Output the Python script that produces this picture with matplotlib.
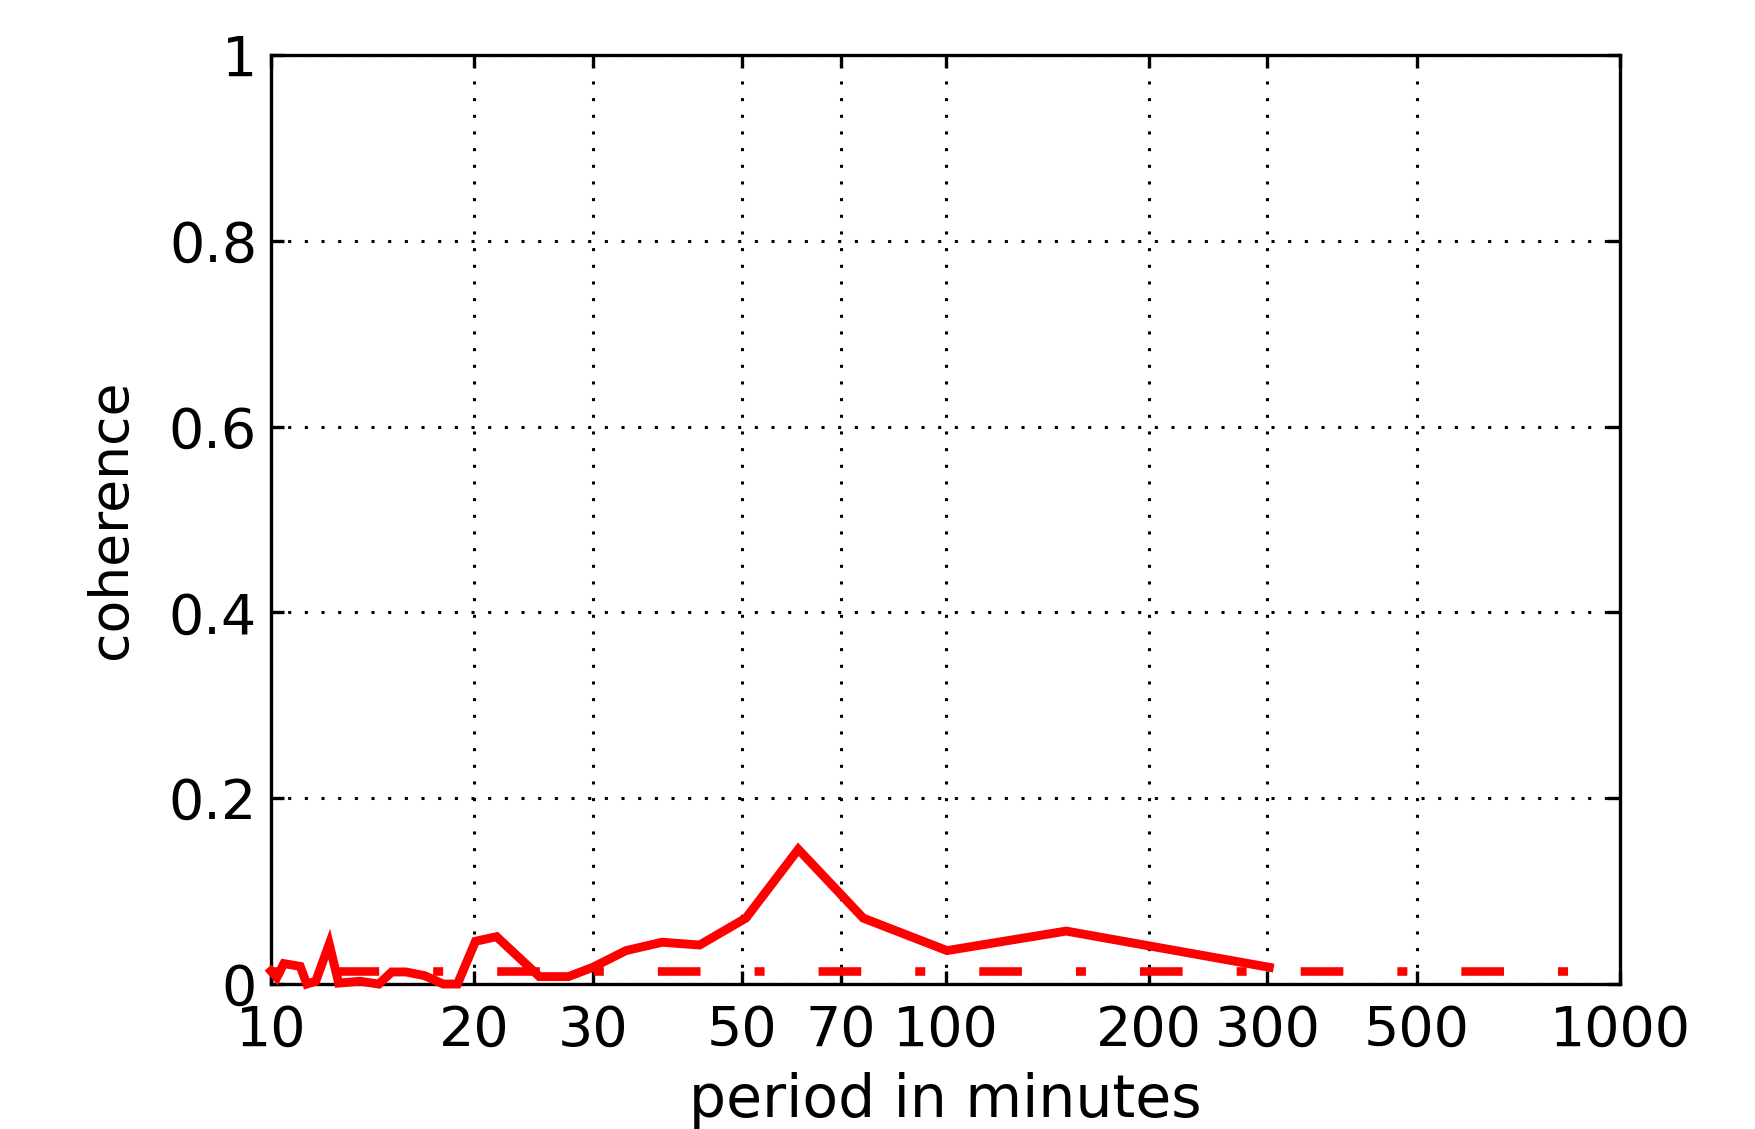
import matplotlib
matplotlib.use('Agg')
import matplotlib.pyplot as plt
from matplotlib.ticker import FixedLocator, FixedFormatter, NullLocator

# ---- data ----
period = [10.0, 10.2, 10.45, 11.05, 11.3, 11.65, 12.2, 12.6, 13.55, 14.45,
          15.1, 15.85, 16.9, 18.0, 18.9, 20.1, 21.6, 25.0, 27.6, 30.0,
          33.6, 38.0, 43.2, 50.6, 60.5, 75.5, 100.5, 151.0, 302.0]
coherence = [0.014, 0.007, 0.022, 0.019, 0.0, 0.003, 0.043, 0.001, 0.003, 0.0,
             0.013, 0.013, 0.009, 0.0, 0.0, 0.046, 0.051, 0.008, 0.008, 0.018,
             0.036, 0.045, 0.042, 0.071, 0.145, 0.071, 0.036, 0.057, 0.018]
sig_period = [10, 1000]
sig_level = [0.0135, 0.0135]

xticks = [10, 20, 30, 50, 70, 100, 200, 300, 500, 1000]
xticklabels = ['10', '20', '30', '50', '70', '100', '200', '300', '500', '1000']
yticks = [0, 0.2, 0.4, 0.6, 0.8, 1]
yticklabels = ['0', '0.2', '0.4', '0.6', '0.8', '1']

plt.rcParams['lines.scale_dashes'] = False
plt.rcParams['font.family'] = ['DejaVu Sans']

fig = plt.figure(figsize=(17.55, 11.29), dpi=100)
ax = fig.add_axes([0.1544, 0.1284, 0.7687, 0.8229])

red = '#ff0000'
ax.plot(period, coherence, color=red, lw=6.4, solid_joinstyle='miter',
        clip_on=False, zorder=3)
ax.plot(sig_period, sig_level, color=red, lw=6.2,
        linestyle=(68.9, (30.7, 38.9, 7.2, 38.9)), dash_capstyle='butt',
        zorder=3)

ax.set_xscale('log')
ax.set_xlim(10, 1000)
ax.set_ylim(0, 1)
ax.xaxis.set_major_locator(FixedLocator(xticks))
ax.xaxis.set_major_formatter(FixedFormatter(xticklabels))
ax.xaxis.set_minor_locator(NullLocator())
ax.yaxis.set_major_locator(FixedLocator(yticks))
ax.yaxis.set_major_formatter(FixedFormatter(yticklabels))

ax.grid(True, which='major', color='k', linestyle=(0, (2.2, 9.8)), linewidth=2.2)
ax.set_axisbelow(True)

ax.tick_params(which='major', direction='in', length=9.4, width=2.4,
               top=True, right=True, labelsize=40, colors='k')
ax.tick_params(axis='x', pad=14)
ax.tick_params(axis='y', pad=10)
for s in ax.spines.values():
    s.set_linewidth(2.4)
    s.set_color('k')

ax.set_xlabel('period in minutes', fontsize=42)
ax.xaxis.set_label_coords(0.5, -0.0947)
ax.xaxis.label.set_va('top')
ax.set_ylabel('coherence', fontsize=38.5)
ax.yaxis.set_label_coords(-0.0993, 0.5)

fig.savefig('out.png', dpi=100)
